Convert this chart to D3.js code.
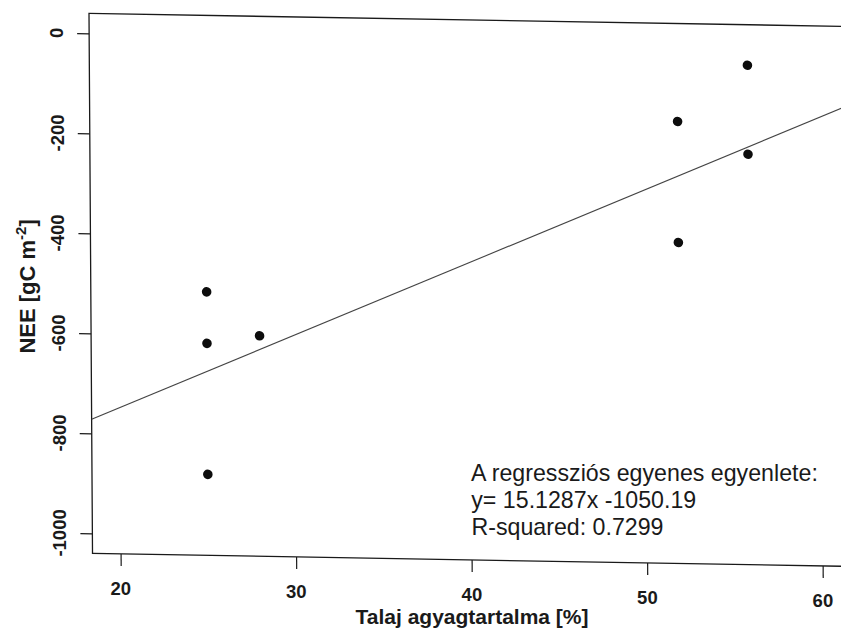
<!DOCTYPE html>
<html><head><meta charset="utf-8">
<script src="https://cdn.jsdelivr.net/npm/d3@7"></script>
<style>body{margin:0;background:#fff}svg{display:block}</style>
</head><body>
<svg id="chart" width="841" height="629"></svg>
<script>
// ---- data ----
const clayPct   = [25, 25, 28, 25, 51.9, 51.9, 55.9, 55.9];
const neeValues = [-513, -616, -599, -878, -156, -398, -41, -219];
const xTicks = [20, 30, 40, 50, 60];
const yTicks = [0, -200, -400, -600, -800, -1000];
const regSlope = 15.1287;
const regIntercept = -1050.19;
const annotationLines = ["A regressziós egyenes egyenlete:", "y= 15.1287x -1050.19", "R-squared: 0.7299"];
const xLabel = "Talaj agyagtartalma [%]";
const yLabelMain = "NEE [gC m";
const yLabelSup = "-2";
const yLabelEnd = "]";

// ---- layout ----
const W = 758.2, H = 540;
const FONT = "'Liberation Sans', Arial, Helvetica, sans-serif";
const ink = "#1a1a1a";
// scanned page is slightly skewed: affine map from plot space to page
const SK = {a: 1, b: 0.0172, c: 0.0065, d: 1, e: 89, f: 13.4};
const T = (u, v) => [SK.e + SK.a * u + SK.c * v, SK.f + SK.b * u + SK.d * v];

const svg = d3.select("#chart");
svg.append("rect").attr("width", 841).attr("height", 629).attr("fill", "#fff");

const g = svg.append("g").attr("transform", `matrix(${SK.a},${SK.b},${SK.c},${SK.d},${SK.e},${SK.f})`);
const labels = svg.append("g"); // texts: positioned through T, not sheared

const x = d3.scaleLinear().domain([18.4, 61.6]).range([0, W]);
const y = d3.scaleLinear().domain([-1040, 40]).range([H, 0]);

g.append("defs").append("clipPath").attr("id", "plotclip")
  .append("rect").attr("x", 0).attr("y", 0).attr("width", W).attr("height", H);

// box
g.append("rect").attr("x", 0).attr("y", 0).attr("width", W).attr("height", H)
  .attr("fill", "none").attr("stroke", ink).attr("stroke-width", 1.3);

// x axis ticks
const xAxis = g.append("g").attr("transform", `translate(0,${H})`)
  .call(d3.axisBottom(x).tickValues(xTicks).tickSize(12).tickFormat(""));
xAxis.select(".domain").remove();
xAxis.selectAll(".tick line").attr("stroke", ink).attr("stroke-width", 1.2);
xAxis.selectAll(".tick text").remove();

// y axis ticks
const yAxis = g.append("g")
  .call(d3.axisLeft(y).tickValues(yTicks).tickSize(12).tickFormat(""));
yAxis.select(".domain").remove();
yAxis.selectAll(".tick line").attr("stroke", ink).attr("stroke-width", 1.2);
yAxis.selectAll(".tick text").remove();

// tick labels
labels.selectAll("text.xt").data(xTicks).join("text").attr("class", "xt")
  .attr("transform", d => { const p = T(x(d), H + 41); return `translate(${p[0]},${p[1]})`; })
  .attr("text-anchor", "middle").attr("fill", ink)
  .style("font-family", FONT).style("font-size", "18.5px").style("font-weight", "bold")
  .text(d => String(d));

labels.selectAll("text.yt").data(yTicks).join("text").attr("class", "yt")
  .attr("transform", d => { const p = T(-26, y(d)); return `translate(${p[0]},${p[1]}) rotate(-90)`; })
  .attr("text-anchor", "middle").attr("fill", ink)
  .style("font-family", FONT).style("font-size", "18.5px").style("font-weight", "bold")
  .text(d => String(d));

// axis titles
{
  const p = T(W / 2, H + 64.5);
  labels.append("text").attr("transform", `translate(${p[0]},${p[1]})`).attr("text-anchor", "middle")
    .attr("fill", ink).style("font-family", FONT).style("font-size", "21px").style("font-weight", "bold")
    .text(xLabel);
}
{
  const p = T(-56, H / 2 + 4);
  const yt = labels.append("text").attr("transform", `translate(${p[0]},${p[1]}) rotate(-90)`)
    .attr("text-anchor", "middle")
    .attr("fill", ink).style("font-family", FONT).style("font-size", "22px").style("font-weight", "bold");
  yt.append("tspan").text(yLabelMain);
  yt.append("tspan").attr("dy", -9).style("font-size", "15px").text(yLabelSup);
  yt.append("tspan").attr("dy", 9).text(yLabelEnd);
}

// plot area
const plot = g.append("g").attr("clip-path", "url(#plotclip)");

// regression line (abline)
const xd = x.domain();
plot.append("line")
  .attr("x1", x(xd[0])).attr("y1", y(regSlope * xd[0] + regIntercept))
  .attr("x2", x(xd[1])).attr("y2", y(regSlope * xd[1] + regIntercept))
  .attr("stroke", "#444").attr("stroke-width", 1.1);

// points
plot.selectAll("circle").data(clayPct.map((c, i) => [c, neeValues[i]]))
  .join("circle")
  .attr("cx", d => x(d[0])).attr("cy", d => y(d[1])).attr("r", 4.8)
  .attr("fill", "#0d0d0d");

// annotation
annotationLines.forEach((t, i) => {
  const p = T(x(40), y(-882) + i * 26.8);
  labels.append("text").attr("transform", `translate(${p[0]},${p[1]})`)
    .attr("fill", ink).style("font-family", FONT).style("font-size", "23.2px")
    .text(t);
});
</script>
</body></html>
